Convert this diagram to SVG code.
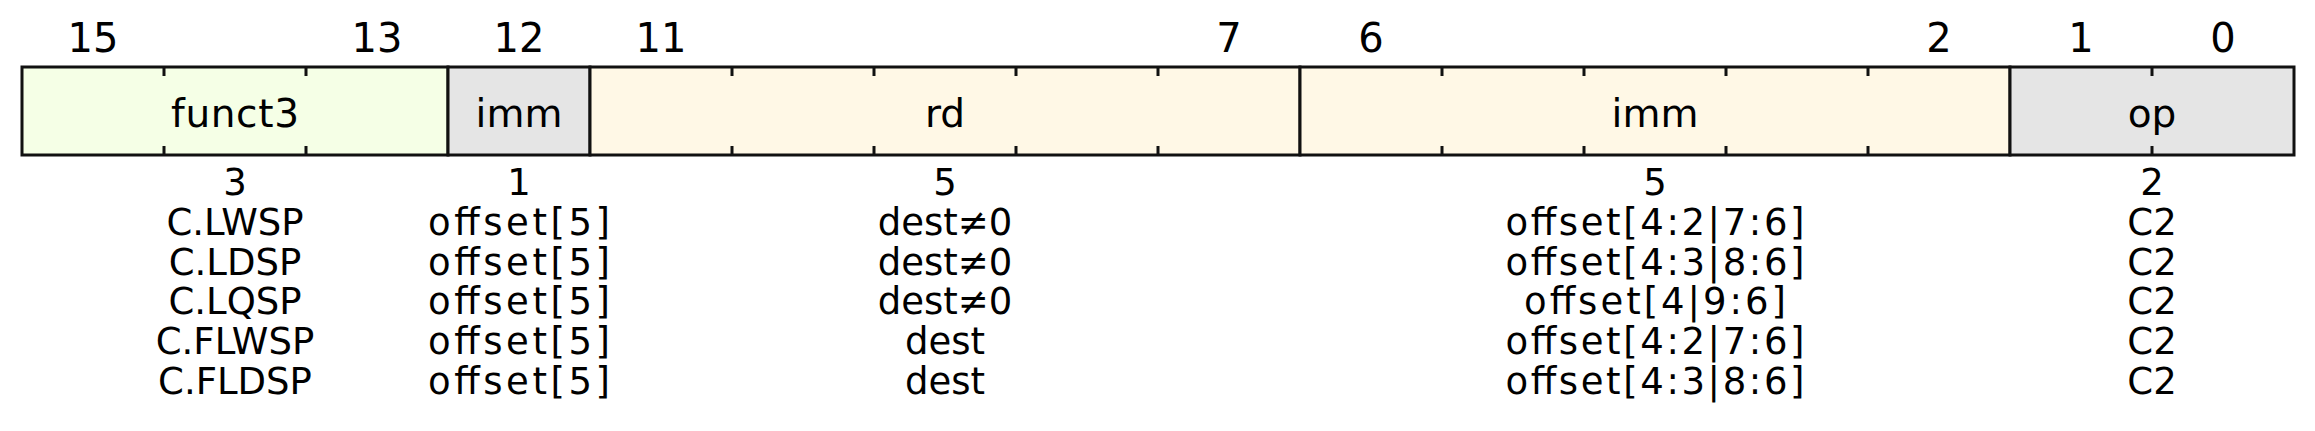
<svg xmlns="http://www.w3.org/2000/svg" width="2315" height="431" viewBox="0 0 2315 431">
<style>
text{font-family:"DejaVu Sans","Liberation Sans",sans-serif;fill:#000;text-anchor:middle}
.bit{font-size:40px}
.name{font-size:39px}
.lbl{font-size:37px}
.fld{stroke:#111;stroke-width:3}
.tick{stroke:#111;stroke-width:3}
.g{fill:#f5ffe6}.y{fill:#fff8e6}.k{fill:#e5e5e5}
</style>
<rect x="0" y="0" width="2315" height="431" fill="#fff"/>
<g id="bits" class="bit">
<text x="93" y="52">15</text>
<text x="377" y="52">13</text>
<text x="519" y="52">12</text>
<text x="661" y="52">11</text>
<text x="1229" y="52">7</text>
<text x="1371" y="52">6</text>
<text x="1939" y="52">2</text>
<text x="2081" y="52">1</text>
<text x="2223" y="52">0</text>
</g>
<g id="funct3">
<rect class="fld g" x="22" y="67" width="426" height="88"/>
<text class="name" x="235" y="127" textLength="128">funct3</text>
<g class="lbl"><text x="235" y="195">3</text><text x="235" y="235">C.LWSP</text><text x="235" y="275">C.LDSP</text><text x="235" y="314">C.LQSP</text><text x="235" y="354">C.FLWSP</text><text x="235" y="394">C.FLDSP</text></g>
</g>
<g id="imm12">
<rect class="fld k" x="448" y="67" width="142" height="88"/>
<text class="name" x="519" y="127">imm</text>
<g class="lbl"><text x="519" y="195">1</text><text x="519" y="235" textLength="182">offset[5]</text><text x="519" y="275" textLength="182">offset[5]</text><text x="519" y="314" textLength="182">offset[5]</text><text x="519" y="354" textLength="182">offset[5]</text><text x="519" y="394" textLength="182">offset[5]</text></g>
</g>
<g id="rd">
<rect class="fld y" x="590" y="67" width="710" height="88"/>
<text class="name" x="945" y="127">rd</text>
<g class="lbl"><text x="945" y="195">5</text><text x="945" y="235">dest≠0</text><text x="945" y="275">dest≠0</text><text x="945" y="314">dest≠0</text><text x="945" y="354">dest</text><text x="945" y="394">dest</text></g>
</g>
<g id="imm62">
<rect class="fld y" x="1300" y="67" width="710" height="88"/>
<text class="name" x="1655" y="127">imm</text>
<g class="lbl"><text x="1655" y="195">5</text><text x="1655" y="235" textLength="299">offset[4:2|7:6]</text><text x="1655" y="275" textLength="299">offset[4:3|8:6]</text><text x="1655" y="314" textLength="262">offset[4|9:6]</text><text x="1655" y="354" textLength="299">offset[4:2|7:6]</text><text x="1655" y="394" textLength="299">offset[4:3|8:6]</text></g>
</g>
<g id="op">
<rect class="fld k" x="2010" y="67" width="284" height="88"/>
<text class="name" x="2152" y="127">op</text>
<g class="lbl"><text x="2152" y="195">2</text><text x="2152" y="235">C2</text><text x="2152" y="275">C2</text><text x="2152" y="314">C2</text><text x="2152" y="354">C2</text><text x="2152" y="394">C2</text></g>
</g>
<g id="ticks" class="tick">
<path d="M164 67v9M164 155v-9M306 67v9M306 155v-9M732 67v9M732 155v-9M874 67v9M874 155v-9M1016 67v9M1016 155v-9M1158 67v9M1158 155v-9M1442 67v9M1442 155v-9M1584 67v9M1584 155v-9M1726 67v9M1726 155v-9M1868 67v9M1868 155v-9M2152 67v9M2152 155v-9"/>
</g>
</svg>
